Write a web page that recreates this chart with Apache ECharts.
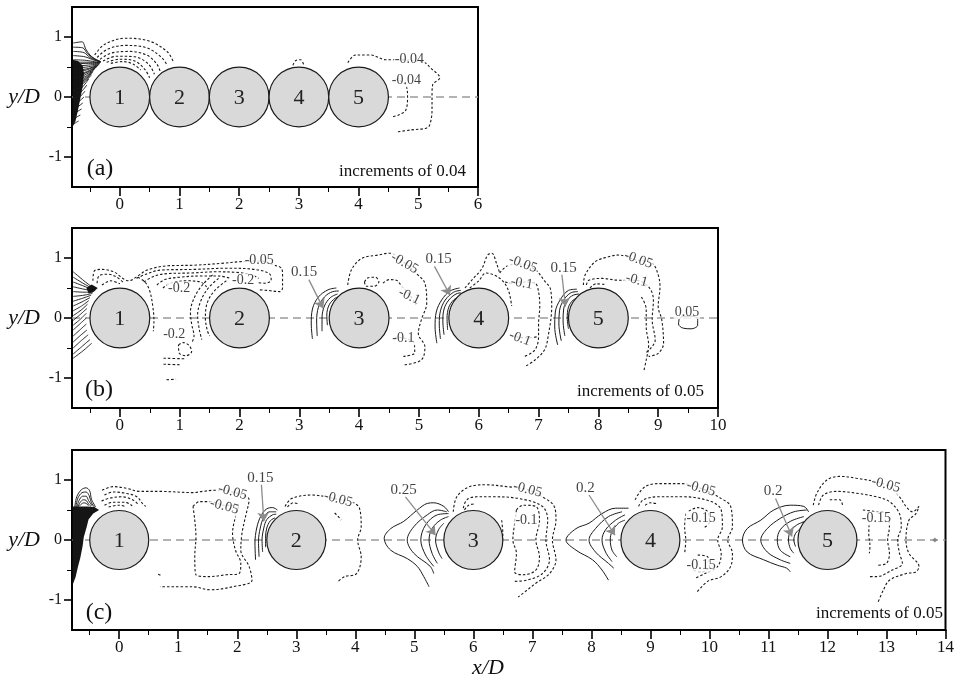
<!DOCTYPE html>
<html><head><meta charset="utf-8">
<script src="https://cdn.jsdelivr.net/npm/echarts@6/dist/echarts.min.js"></script>
<style>html,body{margin:0;padding:0;background:#fff}#c{width:957px;height:687px}</style>
</head><body><div id="c"></div>
<script>
// ---------- axes / ticks ----------
const XMIN = -0.8;
const XMAX = [6, 10, 14];
const xTicksA = [0,1,2,3,4,5,6];
const xTicksB = [0,1,2,3,4,5,6,7,8,9,10];
const xTicksC = [0,1,2,3,4,5,6,7,8,9,10,11,12,13,14];
const xMinorA = [-0.5,0.5,1.5,2.5,3.5,4.5,5.5];
const xMinorB = [-0.5,0.5,1.5,2.5,3.5,4.5,5.5,6.5,7.5,8.5,9.5];
const xMinorC = [-0.5,0.5,1.5,2.5,3.5,4.5,5.5,6.5,7.5,8.5,9.5,10.5,11.5,12.5,13.5];
const yTicks = [-1,0,1];
const yMinor = [-0.5,0.5];

// ---------- cylinders (x/D of centres) ----------
const aCircles = [0,1,2,3,4];
const bCircles = [0,2,4,6,8];
const cCircles = [0,3,6,9,12];
const circleNames = ['1','2','3','4','5'];

// ---------- panel (a) ----------
const aDark = [[-0.79,0.62],[-0.7,0.6],[-0.62,0.52],[-0.6,0.38],[-0.62,0.18],[-0.66,-0.02],[-0.7,-0.22],[-0.74,-0.4],[-0.79,-0.5]];
const aFan = [
 [[-0.78,0.9],[-0.63,0.92],[-0.57,0.8],[-0.5,0.7],[-0.42,0.64],[-0.32,0.59]],
 [[-0.78,0.83],[-0.62,0.82],[-0.54,0.72],[-0.42,0.63],[-0.32,0.59]],
 [[-0.78,0.76],[-0.6,0.74],[-0.5,0.66],[-0.32,0.58]],
 [[-0.78,0.69],[-0.58,0.67],[-0.45,0.62],[-0.32,0.58]],
 [[-0.78,0.62],[-0.56,0.61],[-0.33,0.57]],
 [[-0.78,0.58],[-0.56,0.58],[-0.33,0.57]],
 [[-0.78,0.55],[-0.55,0.56],[-0.34,0.56]],
 [[-0.78,0.51],[-0.55,0.53],[-0.34,0.55]],
 [[-0.78,0.48],[-0.55,0.5],[-0.35,0.54]],
 [[-0.78,0.44],[-0.55,0.47],[-0.36,0.53]],
 [[-0.78,0.41],[-0.56,0.45],[-0.37,0.52]],
 [[-0.78,0.37],[-0.56,0.42],[-0.38,0.51]],
 [[-0.78,0.34],[-0.57,0.4],[-0.39,0.5]],
 [[-0.78,0.3],[-0.58,0.37],[-0.41,0.48]],
 [[-0.78,0.27],[-0.58,0.34],[-0.42,0.47]],
 [[-0.78,0.23],[-0.59,0.31],[-0.44,0.44]],
 [[-0.78,0.2],[-0.6,0.28],[-0.45,0.42]],
 [[-0.78,0.16],[-0.61,0.25],[-0.47,0.39]],
 [[-0.78,0.13],[-0.62,0.22],[-0.48,0.36]],
 [[-0.78,0.06],[-0.64,0.15],[-0.52,0.3]],
 [[-0.78,-0.01],[-0.66,0.07],[-0.55,0.2]],
 [[-0.78,-0.08],[-0.68,-0.01],[-0.58,0.1]],
 [[-0.78,-0.15],[-0.7,-0.09],[-0.6,0.0]],
 [[-0.78,-0.22],[-0.71,-0.17],[-0.62,-0.1]],
 [[-0.78,-0.3],[-0.72,-0.25],[-0.64,-0.2]],
 [[-0.78,-0.38],[-0.73,-0.34],[-0.66,-0.3]],
 [[-0.78,-0.46],[-0.74,-0.43],[-0.69,-0.4]]
];
const aPos = [];
const aNeg = [
 [[-0.42,0.7],[-0.25,0.88],[0.1,0.98],[0.5,0.93],[0.8,0.75],[0.9,0.58]],
 [[-0.38,0.66],[-0.2,0.8],[0.1,0.86],[0.45,0.82],[0.7,0.66],[0.8,0.52]],
 [[-0.33,0.63],[-0.15,0.73],[0.15,0.76],[0.45,0.7],[0.62,0.55],[0.68,0.42]],
 [[-0.28,0.6],[-0.05,0.68],[0.25,0.67],[0.48,0.55],[0.58,0.38]],
 [[-0.22,0.58],[0.0,0.63],[0.25,0.6],[0.42,0.46],[0.5,0.32]],
 [[-0.15,0.56],[0.05,0.59],[0.22,0.55],[0.35,0.45]],
 [[2.9,0.53],[2.95,0.61],[3.03,0.62],[3.08,0.54]],
 [[3.82,0.57],[3.95,0.7],[4.2,0.7],[4.46,0.62],[4.62,0.62],[5.09,0.58],[5.21,0.48],[5.36,0.32],[5.24,0.2],[5.23,0.03],[5.23,-0.22],[5.19,-0.47],[5.13,-0.52],[4.87,-0.55],[4.66,-0.58]],
 [[4.62,0.3],[4.79,0.2],[4.82,0.0],[4.79,-0.22],[4.67,-0.3],[4.57,-0.33]]
];
const aLabels = [[4.85,0.62,'-0.04'],[4.8,0.28,'-0.04']];
const aLabelRot = [0,0];
const aArrows = [];
const aArrowText = [];

// ---------- panel (b) ----------
const bDark = [[-0.56,0.5],[-0.47,0.56],[-0.37,0.5],[-0.43,0.44],[-0.52,0.41]];
const bFan = [
 [[-0.78,0.77],[-0.6,0.62],[-0.42,0.48]],
 [[-0.78,0.68],[-0.6,0.57],[-0.42,0.47]],
 [[-0.78,0.6],[-0.6,0.53],[-0.43,0.46]],
 [[-0.78,0.52],[-0.6,0.48],[-0.44,0.45]],
 [[-0.78,0.44],[-0.6,0.43],[-0.45,0.43]],
 [[-0.78,0.36],[-0.6,0.38],[-0.46,0.41]],
 [[-0.78,0.28],[-0.62,0.33],[-0.48,0.38]],
 [[-0.78,0.2],[-0.63,0.27],[-0.5,0.34]],
 [[-0.78,0.12],[-0.64,0.2],[-0.52,0.29]],
 [[-0.78,0.04],[-0.65,0.13],[-0.54,0.23]],
 [[-0.78,-0.04],[-0.66,0.06],[-0.55,0.16]],
 [[-0.78,-0.12],[-0.66,-0.02],[-0.56,0.08]],
 [[-0.78,-0.2],[-0.67,-0.1],[-0.56,0.0]],
 [[-0.78,-0.3],[-0.67,-0.2],[-0.56,-0.1]],
 [[-0.78,-0.4],[-0.67,-0.3],[-0.55,-0.2]],
 [[-0.78,-0.5],[-0.66,-0.39],[-0.53,-0.28]],
 [[-0.78,-0.6],[-0.64,-0.48],[-0.5,-0.36]],
 [[-0.78,-0.67],[-0.62,-0.55],[-0.47,-0.42]]
];
const bPos = [
 [[3.22,-0.35],[3.2,-0.1],[3.22,0.15],[3.32,0.35],[3.48,0.47],[3.62,0.5]],
 [[3.3,-0.3],[3.29,-0.05],[3.32,0.18],[3.42,0.35],[3.56,0.44],[3.66,0.45]],
 [[3.38,-0.22],[3.38,0.0],[3.42,0.2],[3.52,0.34],[3.64,0.4]],
 [[3.47,-0.12],[3.46,0.05],[3.5,0.22],[3.6,0.33],[3.68,0.36]],
 [[5.3,-0.42],[5.27,-0.15],[5.29,0.1],[5.38,0.3],[5.52,0.45],[5.68,0.5]],
 [[5.36,-0.35],[5.34,-0.1],[5.36,0.12],[5.44,0.3],[5.58,0.43],[5.7,0.46]],
 [[5.42,-0.28],[5.4,-0.05],[5.42,0.15],[5.5,0.3],[5.62,0.4],[5.7,0.42]],
 [[5.48,-0.2],[5.47,0.0],[5.5,0.18],[5.58,0.3],[5.68,0.36]],
 [[5.53,-0.1],[5.53,0.05],[5.56,0.2],[5.64,0.3]],
 [[7.32,-0.45],[7.27,-0.15],[7.28,0.1],[7.36,0.3],[7.5,0.46],[7.64,0.48]],
 [[7.38,-0.38],[7.34,-0.1],[7.35,0.12],[7.42,0.3],[7.54,0.42],[7.66,0.44]],
 [[7.44,-0.3],[7.41,-0.05],[7.42,0.15],[7.48,0.3],[7.58,0.38],[7.68,0.4]],
 [[7.5,-0.18],[7.48,0.0],[7.5,0.18],[7.58,0.3],[7.68,0.34]],
 [[9.35,-0.02],[9.42,0.03],[9.55,0.03],[9.66,-0.02],[9.66,-0.12],[9.55,-0.18],[9.42,-0.17],[9.34,-0.1],[9.35,-0.02]]
];
const bNeg = [
 [[-0.45,0.62],[-0.43,0.78],[-0.3,0.81],[-0.1,0.77],[0.05,0.66],[0.15,0.62],[0.3,0.7],[0.46,0.8],[0.8,0.87],[1.24,0.88],[1.69,0.91],[2.03,0.94],[2.36,0.95],[2.58,0.88],[2.7,0.83],[2.72,0.72],[2.72,0.5],[2.67,0.44],[2.47,0.46],[2.31,0.47]],
 [[-0.38,0.58],[-0.35,0.7],[-0.2,0.73],[-0.05,0.68],[0.05,0.6]],
 [[-0.3,0.55],[-0.15,0.62],[0.0,0.57]],
 [[0.28,0.66],[0.46,0.74],[0.69,0.8],[1.24,0.81],[1.8,0.83],[2.25,0.81],[2.5,0.74],[2.53,0.63],[2.42,0.58],[2.3,0.59]],
 [[0.4,0.6],[0.58,0.7],[0.8,0.74],[1.2,0.75],[1.6,0.77],[1.95,0.76],[2.2,0.72],[2.32,0.66]],
 [[0.62,0.55],[0.75,0.64],[1.0,0.68],[1.35,0.7],[1.65,0.7],[1.85,0.66]],
 [[0.72,0.5],[0.85,0.58],[1.1,0.62],[1.35,0.6],[1.45,0.52]],
 [[0.3,0.68],[0.42,0.6],[0.5,0.45],[0.55,0.2],[0.57,-0.05],[0.56,-0.22]],
 [[1.55,0.72],[1.38,0.55],[1.25,0.35],[1.18,0.1],[1.2,-0.1],[1.24,-0.3],[1.2,-0.42]],
 [[1.65,0.66],[1.48,0.5],[1.36,0.3],[1.3,0.05],[1.33,-0.2],[1.37,-0.36]],
 [[1.78,0.62],[1.58,0.45],[1.46,0.25],[1.43,0.0],[1.46,-0.2],[1.5,-0.3]],
 [[0.98,-0.45],[1.06,-0.41],[1.16,-0.46],[1.2,-0.56],[1.1,-0.63],[0.99,-0.58],[0.98,-0.45]],
 [[0.73,-0.67],[1.08,-0.68]],
 [[0.73,-0.77],[1.03,-0.78]],
 [[0.78,-1.03],[0.94,-1.02]],
 [[3.81,0.55],[3.87,0.8],[4.04,0.99],[4.32,1.05],[4.51,1.08],[4.76,0.92],[4.96,0.74],[5.1,0.58],[5.13,0.25],[5.04,-0.03],[4.99,-0.26],[5.1,-0.48],[5.04,-0.7],[4.76,-0.78]],
 [[4.09,0.6],[4.15,0.67],[4.27,0.68],[4.33,0.6],[4.25,0.53],[4.12,0.53],[4.09,0.6]],
 [[4.4,0.58],[4.5,0.64],[4.62,0.63],[4.72,0.52],[4.85,0.38],[4.95,0.22]],
 [[4.6,-0.32],[4.78,-0.34],[4.92,-0.42],[4.93,-0.58],[4.74,-0.64]],
 [[5.77,0.5],[5.9,0.65],[6.05,0.82],[6.15,1.05],[6.22,1.08],[6.3,0.9],[6.35,0.75]],
 [[5.85,0.5],[6.0,0.62],[6.12,0.75],[6.25,0.72],[6.4,0.62],[6.5,0.45],[6.55,0.2]],
 [[6.35,0.75],[6.5,0.88],[6.72,0.9],[6.95,0.8],[7.1,0.62],[7.2,0.48],[7.22,0.19],[7.16,-0.31],[7.1,-0.53],[6.94,-0.7],[6.77,-0.81]],
 [[6.44,0.6],[6.55,0.58],[6.72,0.6],[6.94,0.58],[7.0,0.44],[7.02,0.19],[7.0,-0.1],[7.0,-0.31],[6.94,-0.53],[6.77,-0.64]],
 [[6.55,-0.3],[6.8,-0.33],[7.0,-0.31]],
 [[7.75,0.55],[7.78,0.72],[7.95,0.94],[8.17,1.02],[8.34,1.05],[8.62,0.97],[8.9,0.91],[9.0,0.72],[9.03,0.52],[9.0,0.19],[9.06,-0.03],[9.09,-0.42],[9.0,-0.59],[8.84,-0.64]],
 [[7.8,0.55],[7.84,0.63],[8.06,0.66],[8.34,0.63],[8.62,0.63],[8.84,0.52],[8.92,0.3],[8.9,-0.03],[8.95,-0.37],[8.87,-0.51],[8.78,-0.59]],
 [[8.72,0.35],[8.8,0.15],[8.8,-0.15],[8.84,-0.45],[8.8,-0.7],[8.76,-0.88]],
 [[7.86,0.5],[7.96,0.57],[8.1,0.56]]
];
const bLabels = [
 [2.33,0.96,'-0.05'],[0.99,0.49,'-0.2'],[2.06,0.63,'-0.2'],[0.91,-0.28,'-0.2'],
 [4.76,0.91,'-0.05'],[4.84,0.36,'-0.1'],[4.74,-0.34,'-0.1'],
 [6.74,0.9,'-0.05'],[6.72,0.58,'-0.1'],[6.69,-0.34,'-0.1'],
 [8.67,0.97,'-0.05'],[8.64,0.63,'-0.1'],[9.48,0.1,'0.05']
];
const bLabelRot = [0,0,0,0,-30,-25,0,-20,-10,-20,-20,-15,0];
const bArrows = [[3.16,0.64,3.4,0.16],[5.26,0.86,5.52,0.38],[7.39,0.72,7.45,0.19]];
const bArrowText = [[3.08,0.76,'0.15'],[5.33,0.98,'0.15'],[7.42,0.83,'0.15']];

// ---------- panel (c) ----------
const cDark = [[-0.79,0.56],[-0.55,0.56],[-0.42,0.55],[-0.34,0.5],[-0.44,0.44],[-0.52,0.34],[-0.55,0.22],[-0.6,0.05],[-0.62,-0.1],[-0.66,-0.3],[-0.7,-0.45],[-0.74,-0.62],[-0.79,-0.75]];
const cFan = [
 [[-0.76,0.5],[-0.72,0.72],[-0.64,0.84],[-0.56,0.87],[-0.5,0.82],[-0.47,0.68],[-0.4,0.55]],
 [[-0.74,0.52],[-0.7,0.7],[-0.63,0.79],[-0.56,0.8],[-0.51,0.74],[-0.47,0.62],[-0.42,0.55]],
 [[-0.72,0.54],[-0.68,0.66],[-0.62,0.73],[-0.56,0.73],[-0.52,0.66],[-0.46,0.57]],
 [[-0.7,0.55],[-0.66,0.63],[-0.61,0.67],[-0.56,0.66],[-0.52,0.6],[-0.48,0.56]],
 [[-0.68,0.56],[-0.64,0.6],[-0.6,0.62],[-0.56,0.61],[-0.52,0.57]]
];
const cPos = [
 [[2.31,-0.33],[2.3,-0.05],[2.33,0.2],[2.4,0.4],[2.5,0.52],[2.6,0.54],[2.68,0.5]],
 [[2.37,-0.28],[2.36,-0.02],[2.39,0.2],[2.45,0.38],[2.55,0.47],[2.66,0.47]],
 [[2.43,-0.2],[2.42,0.0],[2.45,0.2],[2.5,0.34],[2.6,0.42],[2.66,0.43]],
 [[2.48,-0.12],[2.48,0.05],[2.5,0.2],[2.56,0.32],[2.64,0.37]],
 [[5.25,-0.78],[5.16,-0.61],[5.05,-0.44],[4.88,-0.31],[4.6,-0.17],[4.49,0.03],[4.6,0.19],[4.82,0.31],[5.05,0.5],[5.22,0.61],[5.33,0.62],[5.5,0.56],[5.58,0.47]],
 [[5.33,-0.56],[5.27,-0.44],[4.99,-0.22],[4.88,0.0],[4.99,0.22],[5.22,0.42],[5.39,0.5],[5.55,0.47]],
 [[5.33,-0.44],[5.19,-0.25],[5.11,0.0],[5.19,0.25],[5.39,0.42],[5.58,0.44]],
 [[5.39,-0.39],[5.3,-0.22],[5.25,0.0],[5.3,0.19],[5.44,0.33],[5.58,0.39]],
 [[5.47,-0.31],[5.41,-0.2],[5.36,0.0],[5.41,0.17],[5.5,0.28]],
 [[8.29,-0.67],[8.18,-0.5],[8.02,-0.33],[7.74,-0.17],[7.57,0.0],[7.74,0.19],[7.96,0.28],[8.18,0.44],[8.41,0.53],[8.63,0.53]],
 [[8.38,-0.47],[8.29,-0.39],[8.07,-0.2],[7.96,0.0],[8.07,0.19],[8.29,0.39],[8.52,0.47]],
 [[8.35,-0.36],[8.24,-0.2],[8.18,0.0],[8.24,0.17],[8.41,0.33],[8.57,0.42]],
 [[8.43,-0.28],[8.35,-0.17],[8.32,0.0],[8.35,0.14],[8.46,0.28],[8.57,0.33]],
 [[11.37,-0.53],[11.31,-0.47],[11.15,-0.42],[10.92,-0.33],[10.64,-0.2],[10.56,0.0],[10.64,0.19],[10.87,0.33],[11.09,0.5],[11.37,0.58],[11.6,0.56],[11.68,0.47]],
 [[11.37,-0.39],[11.2,-0.33],[10.98,-0.2],[10.87,0.0],[10.98,0.19],[11.2,0.36],[11.43,0.47],[11.65,0.5]],
 [[11.37,-0.28],[11.2,-0.17],[11.15,0.0],[11.2,0.17],[11.37,0.31],[11.6,0.39]],
 [[11.43,-0.22],[11.37,-0.14],[11.34,0.0],[11.37,0.14],[11.48,0.25],[11.62,0.31]],
 [[11.46,-0.11],[11.43,0.0],[11.46,0.11],[11.54,0.19]]
];
const cNeg = [
 [[-0.29,0.83],[-0.1,0.89],[0.13,0.86],[0.35,0.81],[0.69,0.81],[1.25,0.79],[1.41,0.81],[1.64,0.83],[1.92,0.8],[2.2,0.67],[2.14,0.39],[2.08,0.11],[2.06,-0.17],[2.2,-0.44],[2.25,-0.67],[1.92,-0.78],[1.53,-0.83],[1.25,-0.78],[0.69,-0.78]],
 [[-0.25,0.75],[-0.1,0.8],[0.1,0.78],[0.3,0.72],[0.4,0.6],[0.45,0.56]],
 [[-0.3,0.65],[-0.15,0.7],[0.05,0.72],[0.25,0.66],[0.33,0.58]],
 [[-0.25,0.58],[-0.1,0.63],[0.1,0.63],[0.22,0.57]],
 [[-0.18,0.55],[0.0,0.58],[0.12,0.55]],
 [[1.25,0.56],[1.36,0.64],[1.56,0.64],[1.78,0.58],[2.03,0.58],[1.97,0.39],[1.92,0.11],[1.97,-0.17],[2.06,-0.39],[2.03,-0.56],[1.81,-0.58],[1.53,-0.61],[1.3,-0.58],[1.28,-0.28],[1.3,0.06],[1.28,0.33],[1.25,0.56]],
 [[0.66,-0.57],[0.72,-0.6]],
 [[2.81,0.56],[2.92,0.69],[3.26,0.75],[3.7,0.68],[3.93,0.64],[4.07,0.53],[4.1,0.22],[4.04,0.0],[4.1,-0.28],[4.02,-0.56],[3.82,-0.61],[3.71,-0.69]],
 [[3.65,0.45],[3.72,0.38],[3.76,0.33]],
 [[2.85,0.55],[2.95,0.62],[3.05,0.6]],
 [[5.66,0.47],[5.72,0.72],[5.94,0.89],[6.22,0.92],[6.56,0.89],[6.92,0.84],[7.17,0.72],[7.37,0.56],[7.4,0.33],[7.34,0.0],[7.4,-0.33],[7.29,-0.56],[7.06,-0.72],[6.84,-0.89],[6.76,-0.95]],
 [[5.83,0.53],[5.89,0.67],[6.06,0.72],[6.34,0.72],[6.78,0.69],[7.17,0.56],[7.26,0.33],[7.23,0.0],[7.29,-0.33],[7.17,-0.56],[6.9,-0.67],[6.67,-0.69]],
 [[6.73,0.5],[6.84,0.58],[7.06,0.56],[7.12,0.33],[7.06,0.0],[7.12,-0.28],[7.06,-0.5],[6.84,-0.58],[6.7,-0.53],[6.73,-0.22],[6.67,0.0],[6.7,0.28],[6.73,0.5]],
 [[5.85,0.5],[5.92,0.58],[6.02,0.6]],
 [[6.48,0.33],[6.5,0.1],[6.48,-0.11]],
 [[8.74,0.67],[8.91,0.89],[9.19,0.94],[9.52,0.94],[9.86,0.86],[10.2,0.69],[10.36,0.56],[10.39,0.22],[10.31,0.0],[10.39,-0.22],[10.36,-0.44],[10.2,-0.61],[9.97,-0.69],[9.77,-0.89]],
 [[8.8,0.56],[8.88,0.67],[9.13,0.72],[9.58,0.72],[10.03,0.64],[10.2,0.5],[10.22,0.22],[10.14,0.0],[10.2,-0.22],[10.14,-0.44],[9.92,-0.56],[9.75,-0.64]],
 [[8.91,0.58],[9.0,0.62],[9.13,0.6]],
 [[9.65,0.48],[9.8,0.54],[9.98,0.46],[10.0,0.3],[9.9,0.2]],
 [[9.6,0.44],[9.58,0.2],[9.6,0.0],[9.58,-0.22]],
 [[9.8,-0.25],[9.97,-0.28],[10.0,-0.44],[9.86,-0.53],[9.7,-0.5]],
 [[11.76,0.58],[11.82,0.78],[11.99,1.0],[12.21,1.06],[12.49,1.03],[12.99,0.92],[13.22,0.72],[13.33,0.56],[13.44,0.47],[13.55,0.56],[13.5,0.44],[13.38,0.33],[13.33,0.0],[13.38,-0.22],[13.55,-0.44],[13.5,-0.53],[13.33,-0.56],[13.05,-0.67],[12.95,-0.83],[12.86,-1.03]],
 [[11.85,0.58],[11.93,0.75],[12.16,0.81],[12.49,0.78],[12.83,0.72],[13.05,0.64],[13.22,0.44],[13.25,0.22],[13.19,0.0],[13.22,-0.22],[13.27,-0.39],[13.1,-0.5],[12.83,-0.61],[12.69,-0.61]],
 [[12.04,0.67],[12.21,0.67],[12.26,0.56]],
 [[12.6,0.5],[12.83,0.47],[13.0,0.44],[13.05,0.22],[13.02,0.0],[13.05,-0.22],[13.0,-0.39],[12.85,-0.42]],
 [[12.71,0.33],[12.7,0.1],[12.72,-0.1],[12.71,-0.22]]
];
const cLabels = [
 [1.92,0.8,'-0.05'],[1.78,0.56,'-0.05'],[3.71,0.68,'-0.05'],[6.92,0.84,'-0.05'],[6.9,0.33,'-0.1'],
 [9.86,0.86,'-0.05'],[9.86,0.36,'-0.15'],[9.86,-0.42,'-0.15'],[12.99,0.92,'-0.05'],[12.83,0.36,'-0.15']
];
const cLabelRot = [-15,-15,-15,-15,0,-15,0,0,-15,0];
const cArrows = [[2.41,0.92,2.45,0.31],[4.85,0.72,5.36,0.08],[7.96,0.75,8.4,0.08],[11.12,0.69,11.4,0.06]];
const cArrowText = [[2.39,1.03,'0.15'],[4.82,0.84,'0.25'],[7.9,0.86,'0.2'],[11.08,0.81,'0.2']];
const cMarker = [[13.82,0]];

// ---------- build ----------
const SERIF = '"Liberation Serif","Times New Roman",serif';
const CLEAR = 'rgba(0,0,0,0)';
const panels = [
 {xt:xTicksA, xm:xMinorA, dark:aDark, fan:aFan, pos:aPos, neg:aNeg, circles:aCircles, labels:aLabels, rot:aLabelRot, arrows:aArrows, atext:aArrowText},
 {xt:xTicksB, xm:xMinorB, dark:bDark, fan:bFan, pos:bPos, neg:bNeg, circles:bCircles, labels:bLabels, rot:bLabelRot, arrows:bArrows, atext:bArrowText},
 {xt:xTicksC, xm:xMinorC, dark:cDark, fan:cFan, pos:cPos, neg:cNeg, circles:cCircles, labels:cLabels, rot:cLabelRot, arrows:cArrows, atext:cArrowText}
];
const grids = [
 {left:72, top:7, width:406, height:180},
 {left:72, top:228, width:646, height:180},
 {left:72, top:450, width:882, height:180}
].map(g => Object.assign(g, {show:true, borderColor:'#000', borderWidth:2, backgroundColor:'transparent', containLabel:false}));

const xAxis = [], yAxis = [], series = [];
panels.forEach((P, i) => {
  xAxis.push({type:'value', gridIndex:i, position:'bottom', min:XMIN, max:XMAX[i],
    axisLine:{show:true, onZero:false, lineStyle:{color:'#000', width:2}},
    axisTick:{show:true, customValues:P.xt, length:9, lineStyle:{color:'#000', width:1.6}},
    axisLabel:{show:true, customValues:P.xt, margin:9, fontSize:17, fontFamily:SERIF, color:'#111'},
    splitLine:{show:false}});
  xAxis.push({type:'value', gridIndex:i, position:'bottom', min:XMIN, max:XMAX[i],
    axisLine:{show:false, onZero:false},
    axisTick:{show:true, customValues:P.xm, length:5, lineStyle:{color:'#000', width:1}},
    axisLabel:{show:false}, splitLine:{show:false}});
  yAxis.push({type:'value', gridIndex:i, position:'left', min:-1.5, max:1.5,
    name:'y/D', nameLocation:'middle', nameRotate:0, nameGap:32,
    nameTextStyle:{fontStyle:'italic', fontSize:22, fontFamily:SERIF, color:'#111'},
    axisLine:{show:true, onZero:false, lineStyle:{color:'#000', width:2}},
    axisTick:{show:true, customValues:yTicks, length:8, lineStyle:{color:'#000', width:1.6}},
    axisLabel:{show:true, customValues:yTicks, margin:10, fontSize:16, fontFamily:SERIF, color:'#111'},
    splitLine:{show:false}});
  yAxis.push({type:'value', gridIndex:i, position:'left', min:-1.5, max:1.5,
    axisLine:{show:false, onZero:false},
    axisTick:{show:true, customValues:yMinor, length:5, lineStyle:{color:'#000', width:1}},
    axisLabel:{show:false}, splitLine:{show:false}});

  const xi = 2*i, yi = 2*i;
  series.push({type:'line', xAxisIndex:xi, yAxisIndex:yi, data:[[XMIN,0],[XMAX[i],0]], symbol:'none', silent:true, z:1,
    lineStyle:{color:'#9a9a9a', width:1.3, type:[8,5]}});
  series.push({type:'custom', xAxisIndex:xi, yAxisIndex:yi, data:[[0,0]], silent:true, z:2,
    renderItem:(params, api) => ({type:'polygon', shape:{points:P.dark.map(p => api.coord(p))}, style:{fill:'#151515'}})});
  P.fan.forEach(poly => series.push({type:'line', xAxisIndex:xi, yAxisIndex:yi, data:poly, symbol:'none', smooth:0.3, silent:true, z:3,
    lineStyle:{color:'#111', width:0.9}}));
  P.pos.forEach(poly => series.push({type:'line', xAxisIndex:xi, yAxisIndex:yi, data:poly, symbol:'none', smooth:0.35, silent:true, z:3,
    lineStyle:{color:'#1a1a1a', width:1}}));
  P.neg.forEach(poly => series.push({type:'line', xAxisIndex:xi, yAxisIndex:yi, data:poly, symbol:'none', smooth:0.35, silent:true, z:3,
    lineStyle:{color:'#1a1a1a', width:1.1, type:[2.5,2]}}));
  series.push({type:'custom', xAxisIndex:xi, yAxisIndex:yi, silent:true, z:5,
    data:P.circles.map((x, k) => [x, 0, k]),
    renderItem:(params, api) => {
      const c = api.coord([api.value(0), api.value(1)]);
      const s = api.size([1, 1]);
      return {type:'group', children:[
        {type:'circle', shape:{cx:c[0], cy:c[1], r:s[0]/2}, style:{fill:'#d9d9d9', stroke:'#1a1a1a', lineWidth:1.2}},
        {type:'text', style:{text:circleNames[api.value(2)], x:c[0], y:c[1]+1, align:'center', verticalAlign:'middle',
          font:'22px "Liberation Serif", serif', fill:'#222'}}
      ]};
    }});
  if (P.arrows.length) {
    series.push({type:'lines', coordinateSystem:'cartesian2d', xAxisIndex:xi, yAxisIndex:yi, silent:true, z:6,
      symbol:['none','arrow'], symbolSize:9,
      lineStyle:{color:'#8c8c8c', width:1.3, curveness:0, opacity:1},
      data:P.arrows.map(a => ({coords:[[a[0],a[1]],[a[2],a[3]]]}))});
    series.push({type:'scatter', xAxisIndex:xi, yAxisIndex:yi, silent:true, z:7, symbolSize:1, itemStyle:{color:CLEAR},
      data:P.atext.map(t => ({name:t[2], value:[t[0], t[1]]})),
      label:{show:true, position:'inside', formatter:'{b}', fontSize:15, fontFamily:SERIF, color:'#111'}});
  }
  series.push({type:'scatter', xAxisIndex:xi, yAxisIndex:yi, silent:true, z:8, symbolSize:1, itemStyle:{color:CLEAR},
    data:P.labels.map((t, k) => ({name:t[2], value:[t[0], t[1]], label:{rotate:P.rot[k]}})),
    label:{show:true, position:'inside', formatter:'{b}', fontSize:14, fontFamily:SERIF, color:'#111',
      backgroundColor:'#fff', padding:[0,1]}});
  if (i === 2) {
    series.push({type:'scatter', xAxisIndex:xi, yAxisIndex:yi, silent:true, z:8, symbol:'diamond', symbolSize:5,
      itemStyle:{color:'#777'}, data:cMarker});
  }
});

const txt = (t, x, y, size, align, italic) => ({type:'text', x:x, y:y, silent:true, z:20,
  style:{text:t, font:(italic ? 'italic ' : '') + size + 'px ' + SERIF, fill:'#111', align:align, verticalAlign:'middle',
    textAlign:align, textVerticalAlign:'middle'}});

const chart = echarts.init(document.getElementById('c'), null, {renderer:'canvas'});
chart.setOption({
  animation:false,
  backgroundColor:'#fff',
  grid:grids, xAxis:xAxis, yAxis:yAxis, series:series,
  graphic:[
    txt('(a)', 100, 169, 24, 'center', false),
    txt('(b)', 99, 390, 24, 'center', false),
    txt('(c)', 99, 613, 24, 'center', false),
    txt('increments of 0.04', 466, 172, 17, 'right', false),
    txt('increments of 0.05', 704, 392, 17, 'right', false),
    txt('increments of 0.05', 943, 614, 17, 'right', false),
    txt('x/D', 488, 668, 22, 'center', true)
  ]
});
</script></body></html>
